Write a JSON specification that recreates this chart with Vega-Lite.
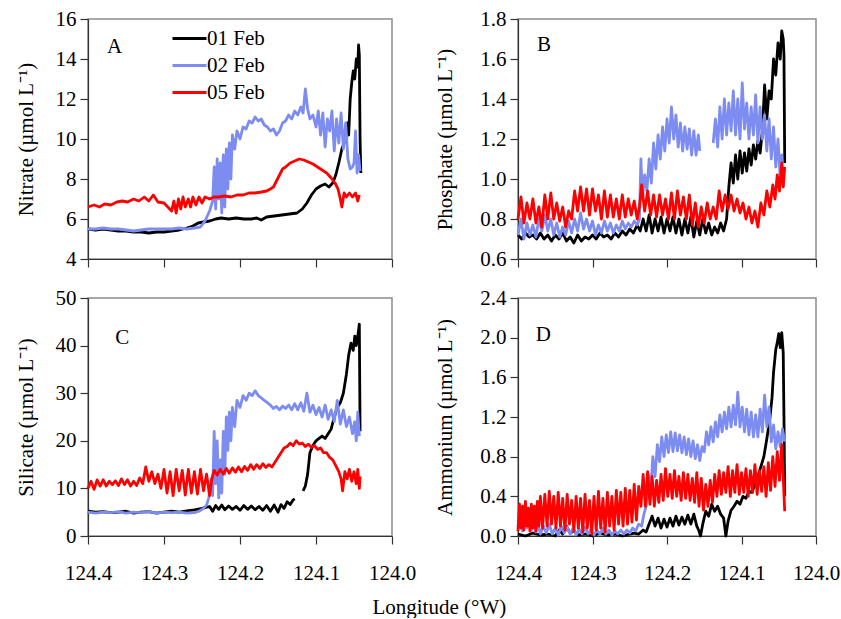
{
"$schema": "https://vega.github.io/schema/vega-lite/v6.json",
"padding": {"left": 14, "top": 7, "right": 0, "bottom": 0},
"background": "white",
"title": {"text": "Longitude (°W)", "orient": "bottom", "anchor": "middle", "font": "Liberation Serif", "fontSize": 21, "fontWeight": "normal", "color": "#000", "offset": 13, "dx": 12},
"columns": 2,
"bounds": "flush",
"spacing": {"row": 39, "column": 126},
"resolve": {"scale": {"color": "independent"}, "legend": {"color": "independent"}},
"config": {
  "view": {"stroke": "#8c8c8c", "strokeWidth": 1.5},
  "axis": {"grid": false, "labelFont": "Liberation Serif", "labelFontSize": 21, "labelColor": "#000", "titleFont": "Liberation Serif", "titleFontSize": 21, "titleFontWeight": "normal", "titleColor": "#000", "tickSize": 8, "tickColor": "#333", "domainColor": "#333", "tickWidth": 1.2, "domainWidth": 1.2, "labelPadding": 4, "labelFlush": false, "labelOverlap": false},
  "axisX": {"labelPadding": 18},
  "line": {"strokeWidth": 2.8, "strokeJoin": "round"}
},
"datasets": {
"A1": [{"x":124.4,"y":5.5},{"x":124.39,"y":5.45},{"x":124.38,"y":5.5},{"x":124.37,"y":5.45},{"x":124.36,"y":5.4},{"x":124.35,"y":5.4},{"x":124.34,"y":5.35},{"x":124.33,"y":5.35},{"x":124.32,"y":5.3},{"x":124.31,"y":5.35},{"x":124.3,"y":5.35},{"x":124.29,"y":5.4},{"x":124.28,"y":5.45},{"x":124.27,"y":5.55},{"x":124.262,"y":5.65},{"x":124.255,"y":5.8},{"x":124.248,"y":5.85},{"x":124.24,"y":5.9},{"x":124.232,"y":6.0},{"x":124.225,"y":6.05},{"x":124.215,"y":6.0},{"x":124.205,"y":6.05},{"x":124.195,"y":6.0},{"x":124.185,"y":6.0},{"x":124.178,"y":6.05},{"x":124.172,"y":5.95},{"x":124.165,"y":6.1},{"x":124.155,"y":6.15},{"x":124.145,"y":6.2},{"x":124.135,"y":6.25},{"x":124.125,"y":6.3},{"x":124.118,"y":6.5},{"x":124.112,"y":6.8},{"x":124.106,"y":7.2},{"x":124.1,"y":7.5},{"x":124.094,"y":7.65},{"x":124.088,"y":7.75},{"x":124.083,"y":7.6},{"x":124.078,"y":7.8},{"x":124.074,"y":8.2},{"x":124.07,"y":8.8},{"x":124.066,"y":9.5},{"x":124.062,"y":9.9},{"x":124.059,"y":10.8},{"x":124.057,"y":10.2},{"x":124.055,"y":12.0},{"x":124.053,"y":12.8},{"x":124.051,"y":13.4},{"x":124.049,"y":13.0},{"x":124.047,"y":14.0},{"x":124.045,"y":13.6},{"x":124.044,"y":14.7},{"x":124.043,"y":14.2},{"x":124.042,"y":10.0},{"x":124.041,"y":8.3}],
"A2": [{"x":124.4,"y":5.5},{"x":124.39,"y":5.5},{"x":124.38,"y":5.55},{"x":124.37,"y":5.5},{"x":124.36,"y":5.5},{"x":124.35,"y":5.45},{"x":124.34,"y":5.4},{"x":124.33,"y":5.45},{"x":124.32,"y":5.5},{"x":124.31,"y":5.5},{"x":124.3,"y":5.5},{"x":124.29,"y":5.5},{"x":124.28,"y":5.55},{"x":124.27,"y":5.5},{"x":124.26,"y":5.55},{"x":124.252,"y":5.6},{"x":124.246,"y":5.9},{"x":124.24,"y":6.4},{"x":124.236,"y":6.9},{"x":124.234,"y":8.6},{"x":124.232,"y":6.5},{"x":124.23,"y":9.0},{"x":124.228,"y":7.0},{"x":124.226,"y":8.8},{"x":124.224,"y":6.3},{"x":124.222,"y":9.2},{"x":124.22,"y":6.6},{"x":124.218,"y":9.5},{"x":124.216,"y":7.5},{"x":124.214,"y":9.8},{"x":124.212,"y":8.0},{"x":124.21,"y":10.2},{"x":124.207,"y":9.5},{"x":124.204,"y":10.4},{"x":124.2,"y":10.0},{"x":124.196,"y":10.6},{"x":124.192,"y":10.5},{"x":124.188,"y":10.9},{"x":124.184,"y":10.8},{"x":124.18,"y":11.1},{"x":124.176,"y":10.9},{"x":124.172,"y":11.0},{"x":124.168,"y":10.7},{"x":124.164,"y":10.6},{"x":124.16,"y":10.4},{"x":124.156,"y":10.5},{"x":124.152,"y":10.2},{"x":124.148,"y":10.4},{"x":124.144,"y":10.8},{"x":124.14,"y":10.9},{"x":124.136,"y":11.2},{"x":124.132,"y":11.0},{"x":124.128,"y":11.4},{"x":124.124,"y":11.2},{"x":124.12,"y":11.6},{"x":124.117,"y":11.3},{"x":124.114,"y":12.5},{"x":124.111,"y":11.5},{"x":124.108,"y":11.0},{"x":124.104,"y":11.2},{"x":124.1,"y":10.6},{"x":124.097,"y":11.4},{"x":124.094,"y":10.2},{"x":124.091,"y":11.3},{"x":124.088,"y":9.6},{"x":124.085,"y":11.0},{"x":124.082,"y":10.4},{"x":124.079,"y":11.4},{"x":124.076,"y":9.4},{"x":124.073,"y":11.0},{"x":124.07,"y":9.8},{"x":124.067,"y":11.3},{"x":124.064,"y":9.5},{"x":124.061,"y":10.8},{"x":124.058,"y":9.0},{"x":124.055,"y":8.5},{"x":124.052,"y":8.6},{"x":124.05,"y":8.8},{"x":124.048,"y":10.4},{"x":124.046,"y":8.3},{"x":124.044,"y":9.2},{"x":124.042,"y":8.4}],
"A5": [{"x":124.4,"y":6.6},{"x":124.392,"y":6.7},{"x":124.385,"y":6.6},{"x":124.378,"y":6.75},{"x":124.37,"y":6.7},{"x":124.362,"y":6.85},{"x":124.355,"y":6.9},{"x":124.348,"y":6.85},{"x":124.34,"y":7.0},{"x":124.333,"y":6.9},{"x":124.326,"y":7.1},{"x":124.32,"y":6.9},{"x":124.314,"y":7.2},{"x":124.308,"y":6.85},{"x":124.3,"y":6.8},{"x":124.295,"y":6.6},{"x":124.29,"y":6.4},{"x":124.287,"y":6.9},{"x":124.284,"y":6.3},{"x":124.281,"y":7.0},{"x":124.278,"y":6.5},{"x":124.275,"y":7.1},{"x":124.272,"y":6.6},{"x":124.268,"y":7.0},{"x":124.265,"y":6.6},{"x":124.262,"y":7.1},{"x":124.258,"y":6.7},{"x":124.254,"y":7.1},{"x":124.25,"y":6.8},{"x":124.246,"y":7.1},{"x":124.24,"y":7.0},{"x":124.234,"y":7.1},{"x":124.228,"y":7.1},{"x":124.22,"y":7.15},{"x":124.212,"y":7.1},{"x":124.204,"y":7.2},{"x":124.196,"y":7.2},{"x":124.188,"y":7.3},{"x":124.18,"y":7.3},{"x":124.172,"y":7.35},{"x":124.165,"y":7.4},{"x":124.16,"y":7.5},{"x":124.156,"y":7.6},{"x":124.152,"y":7.9},{"x":124.148,"y":8.2},{"x":124.144,"y":8.5},{"x":124.14,"y":8.6},{"x":124.134,"y":8.8},{"x":124.128,"y":8.9},{"x":124.122,"y":9.0},{"x":124.116,"y":8.95},{"x":124.11,"y":8.85},{"x":124.104,"y":8.75},{"x":124.098,"y":8.6},{"x":124.092,"y":8.45},{"x":124.086,"y":8.3},{"x":124.08,"y":8.05},{"x":124.075,"y":7.8},{"x":124.071,"y":7.5},{"x":124.068,"y":7.0},{"x":124.066,"y":6.6},{"x":124.063,"y":7.3},{"x":124.06,"y":7.1},{"x":124.056,"y":7.3},{"x":124.052,"y":7.1},{"x":124.048,"y":7.3},{"x":124.045,"y":6.9},{"x":124.043,"y":7.2}],
"B1": [{"x":124.4,"y":0.72},{"x":124.395,"y":0.7},{"x":124.39,"y":0.73},{"x":124.385,"y":0.71},{"x":124.38,"y":0.72},{"x":124.375,"y":0.7},{"x":124.37,"y":0.73},{"x":124.365,"y":0.7},{"x":124.36,"y":0.72},{"x":124.355,"y":0.69},{"x":124.35,"y":0.72},{"x":124.345,"y":0.7},{"x":124.34,"y":0.73},{"x":124.335,"y":0.69},{"x":124.33,"y":0.71},{"x":124.325,"y":0.68},{"x":124.32,"y":0.72},{"x":124.315,"y":0.69},{"x":124.31,"y":0.71},{"x":124.305,"y":0.7},{"x":124.3,"y":0.72},{"x":124.295,"y":0.7},{"x":124.29,"y":0.73},{"x":124.285,"y":0.71},{"x":124.28,"y":0.72},{"x":124.275,"y":0.7},{"x":124.27,"y":0.73},{"x":124.265,"y":0.71},{"x":124.26,"y":0.74},{"x":124.255,"y":0.72},{"x":124.25,"y":0.75},{"x":124.245,"y":0.73},{"x":124.24,"y":0.77},{"x":124.236,"y":0.74},{"x":124.232,"y":0.8},{"x":124.228,"y":0.74},{"x":124.224,"y":0.82},{"x":124.22,"y":0.73},{"x":124.216,"y":0.8},{"x":124.212,"y":0.74},{"x":124.208,"y":0.81},{"x":124.204,"y":0.73},{"x":124.2,"y":0.8},{"x":124.196,"y":0.74},{"x":124.192,"y":0.81},{"x":124.188,"y":0.73},{"x":124.184,"y":0.8},{"x":124.18,"y":0.72},{"x":124.176,"y":0.8},{"x":124.172,"y":0.73},{"x":124.168,"y":0.81},{"x":124.164,"y":0.71},{"x":124.16,"y":0.79},{"x":124.156,"y":0.72},{"x":124.152,"y":0.8},{"x":124.148,"y":0.73},{"x":124.144,"y":0.78},{"x":124.14,"y":0.72},{"x":124.136,"y":0.76},{"x":124.132,"y":0.73},{"x":124.128,"y":0.78},{"x":124.124,"y":0.74},{"x":124.12,"y":0.8},{"x":124.117,"y":0.96},{"x":124.114,"y":1.08},{"x":124.111,"y":0.98},{"x":124.108,"y":1.12},{"x":124.105,"y":1.0},{"x":124.102,"y":1.14},{"x":124.099,"y":1.03},{"x":124.096,"y":1.13},{"x":124.093,"y":1.04},{"x":124.09,"y":1.15},{"x":124.087,"y":1.07},{"x":124.084,"y":1.17},{"x":124.081,"y":1.1},{"x":124.078,"y":1.19},{"x":124.075,"y":1.13},{"x":124.072,"y":1.24},{"x":124.069,"y":1.47},{"x":124.066,"y":1.3},{"x":124.063,"y":1.44},{"x":124.06,"y":1.4},{"x":124.057,"y":1.6},{"x":124.054,"y":1.52},{"x":124.051,"y":1.68},{"x":124.048,"y":1.6},{"x":124.046,"y":1.74},{"x":124.044,"y":1.7},{"x":124.043,"y":1.62},{"x":124.042,"y":1.08}],
"B2": [{"x":124.4,"y":0.72},{"x":124.396,"y":0.8},{"x":124.392,"y":0.7},{"x":124.388,"y":0.78},{"x":124.384,"y":0.72},{"x":124.38,"y":0.77},{"x":124.376,"y":0.71},{"x":124.372,"y":0.8},{"x":124.368,"y":0.74},{"x":124.364,"y":0.82},{"x":124.36,"y":0.74},{"x":124.356,"y":0.8},{"x":124.352,"y":0.72},{"x":124.348,"y":0.78},{"x":124.344,"y":0.71},{"x":124.34,"y":0.76},{"x":124.336,"y":0.72},{"x":124.332,"y":0.79},{"x":124.328,"y":0.73},{"x":124.324,"y":0.8},{"x":124.32,"y":0.74},{"x":124.316,"y":0.83},{"x":124.312,"y":0.75},{"x":124.308,"y":0.8},{"x":124.304,"y":0.74},{"x":124.3,"y":0.79},{"x":124.296,"y":0.72},{"x":124.292,"y":0.77},{"x":124.288,"y":0.73},{"x":124.284,"y":0.79},{"x":124.28,"y":0.74},{"x":124.276,"y":0.78},{"x":124.272,"y":0.73},{"x":124.268,"y":0.77},{"x":124.264,"y":0.74},{"x":124.26,"y":0.79},{"x":124.256,"y":0.75},{"x":124.252,"y":0.78},{"x":124.248,"y":0.76},{"x":124.244,"y":0.79},{"x":124.24,"y":0.77},{"x":124.237,"y":0.8},{"x":124.235,"y":1.1},{"x":124.233,"y":0.9},{"x":124.23,"y":1.02},{"x":124.227,"y":0.94},{"x":124.224,"y":1.1},{"x":124.221,"y":0.98},{"x":124.218,"y":1.18},{"x":124.215,"y":1.05},{"x":124.212,"y":1.22},{"x":124.209,"y":1.1},{"x":124.206,"y":1.26},{"x":124.203,"y":1.14},{"x":124.2,"y":1.3},{"x":124.197,"y":1.18},{"x":124.194,"y":1.36},{"x":124.191,"y":1.2},{"x":124.188,"y":1.32},{"x":124.185,"y":1.16},{"x":124.182,"y":1.28},{"x":124.179,"y":1.14},{"x":124.176,"y":1.26},{"x":124.173,"y":1.15},{"x":124.17,"y":1.25},{"x":124.167,"y":1.12},{"x":124.164,"y":1.24},{"x":124.161,"y":1.12},{"x":124.158,"y":1.22},{"x":124.156,"y":1.14},
 {"x":124.138,"y":1.18,"s":2},{"x":124.135,"y":1.3,"s":2},{"x":124.132,"y":1.16,"s":2},{"x":124.129,"y":1.36,"s":2},{"x":124.126,"y":1.2,"s":2},{"x":124.123,"y":1.4,"s":2},{"x":124.12,"y":1.22,"s":2},{"x":124.117,"y":1.38,"s":2},{"x":124.114,"y":1.24,"s":2},{"x":124.111,"y":1.44,"s":2},{"x":124.108,"y":1.22,"s":2},{"x":124.105,"y":1.4,"s":2},{"x":124.102,"y":1.2,"s":2},{"x":124.099,"y":1.48,"s":2},{"x":124.096,"y":1.25,"s":2},{"x":124.093,"y":1.38,"s":2},{"x":124.09,"y":1.2,"s":2},{"x":124.087,"y":1.36,"s":2},{"x":124.084,"y":1.22,"s":2},{"x":124.081,"y":1.42,"s":2},{"x":124.078,"y":1.18,"s":2},{"x":124.075,"y":1.36,"s":2},{"x":124.072,"y":1.2,"s":2},{"x":124.069,"y":1.32,"s":2},{"x":124.066,"y":1.14,"s":2},{"x":124.063,"y":1.3,"s":2},{"x":124.06,"y":1.1,"s":2},{"x":124.057,"y":1.26,"s":2},{"x":124.054,"y":1.06,"s":2},{"x":124.051,"y":1.2,"s":2},{"x":124.048,"y":1.0,"s":2},{"x":124.046,"y":1.12,"s":2},{"x":124.044,"y":0.96,"s":2}],
"B5": [{"x":124.4,"y":0.8},{"x":124.396,"y":0.91},{"x":124.392,"y":0.78},{"x":124.388,"y":0.88},{"x":124.384,"y":0.8},{"x":124.38,"y":0.9},{"x":124.376,"y":0.78},{"x":124.372,"y":0.86},{"x":124.368,"y":0.76},{"x":124.364,"y":0.92},{"x":124.36,"y":0.8},{"x":124.356,"y":0.93},{"x":124.352,"y":0.8},{"x":124.348,"y":0.88},{"x":124.344,"y":0.79},{"x":124.34,"y":0.86},{"x":124.336,"y":0.76},{"x":124.332,"y":0.84},{"x":124.328,"y":0.8},{"x":124.324,"y":0.94},{"x":124.32,"y":0.84},{"x":124.316,"y":0.96},{"x":124.312,"y":0.84},{"x":124.308,"y":0.95},{"x":124.304,"y":0.82},{"x":124.3,"y":0.95},{"x":124.296,"y":0.84},{"x":124.292,"y":0.92},{"x":124.288,"y":0.8},{"x":124.284,"y":0.94},{"x":124.28,"y":0.81},{"x":124.276,"y":0.92},{"x":124.272,"y":0.81},{"x":124.268,"y":0.9},{"x":124.264,"y":0.8},{"x":124.26,"y":0.92},{"x":124.256,"y":0.81},{"x":124.252,"y":0.9},{"x":124.248,"y":0.82},{"x":124.244,"y":0.89},{"x":124.24,"y":0.8},{"x":124.237,"y":0.86},{"x":124.234,"y":0.97},{"x":124.23,"y":0.84},{"x":124.226,"y":0.94},{"x":124.222,"y":0.82},{"x":124.218,"y":0.92},{"x":124.214,"y":0.81},{"x":124.21,"y":0.92},{"x":124.206,"y":0.82},{"x":124.202,"y":0.9},{"x":124.198,"y":0.8},{"x":124.194,"y":0.93},{"x":124.19,"y":0.8},{"x":124.186,"y":0.94},{"x":124.182,"y":0.82},{"x":124.178,"y":0.91},{"x":124.174,"y":0.8},{"x":124.17,"y":0.92},{"x":124.166,"y":0.77},{"x":124.162,"y":0.88},{"x":124.158,"y":0.76},{"x":124.154,"y":0.86},{"x":124.15,"y":0.78},{"x":124.146,"y":0.88},{"x":124.142,"y":0.8},{"x":124.138,"y":0.86},{"x":124.134,"y":0.8},{"x":124.13,"y":0.94},{"x":124.126,"y":0.84},{"x":124.122,"y":0.92},{"x":124.118,"y":0.85},{"x":124.114,"y":0.92},{"x":124.11,"y":0.84},{"x":124.106,"y":0.9},{"x":124.102,"y":0.83},{"x":124.098,"y":0.88},{"x":124.094,"y":0.8},{"x":124.09,"y":0.86},{"x":124.086,"y":0.78},{"x":124.082,"y":0.84},{"x":124.078,"y":0.76},{"x":124.074,"y":0.88},{"x":124.07,"y":0.82},{"x":124.066,"y":0.94},{"x":124.062,"y":0.86},{"x":124.058,"y":0.97},{"x":124.055,"y":0.9},{"x":124.052,"y":1.02},{"x":124.049,"y":0.94},{"x":124.046,"y":1.08},{"x":124.044,"y":0.96},{"x":124.042,"y":1.06}],
"C1": [{"x":124.4,"y":5.2},{"x":124.39,"y":5.0},{"x":124.38,"y":5.1},{"x":124.37,"y":4.9},{"x":124.36,"y":5.0},{"x":124.35,"y":5.2},{"x":124.34,"y":4.8},{"x":124.33,"y":5.0},{"x":124.32,"y":5.1},{"x":124.31,"y":4.8},{"x":124.3,"y":5.0},{"x":124.29,"y":5.2},{"x":124.28,"y":5.0},{"x":124.27,"y":5.3},{"x":124.26,"y":5.5},{"x":124.25,"y":5.8},{"x":124.245,"y":6.0},{"x":124.24,"y":6.2},{"x":124.236,"y":5.2},{"x":124.232,"y":6.4},{"x":124.228,"y":5.6},{"x":124.224,"y":6.5},{"x":124.22,"y":5.5},{"x":124.215,"y":6.3},{"x":124.21,"y":5.6},{"x":124.205,"y":6.2},{"x":124.2,"y":5.4},{"x":124.195,"y":6.4},{"x":124.19,"y":5.6},{"x":124.185,"y":6.3},{"x":124.18,"y":5.5},{"x":124.175,"y":6.2},{"x":124.17,"y":5.4},{"x":124.165,"y":6.4},{"x":124.16,"y":5.2},{"x":124.155,"y":6.5},{"x":124.15,"y":5.0},{"x":124.146,"y":6.6},{"x":124.142,"y":5.8},{"x":124.138,"y":7.2},{"x":124.134,"y":6.6},{"x":124.13,"y":7.6},{"x":124.128,"y":7.8},
 {"x":124.117,"y":9.5,"s":2},{"x":124.114,"y":10.5,"s":2},{"x":124.111,"y":13.0,"s":2},{"x":124.108,"y":17.5,"s":2},{"x":124.104,"y":19.0,"s":2},{"x":124.1,"y":20.0,"s":2},{"x":124.096,"y":20.5,"s":2},{"x":124.092,"y":21.0,"s":2},{"x":124.088,"y":20.5,"s":2},{"x":124.084,"y":21.5,"s":2},{"x":124.08,"y":22.5,"s":2},{"x":124.076,"y":25.0,"s":2},{"x":124.072,"y":27.0,"s":2},{"x":124.068,"y":28.0,"s":2},{"x":124.064,"y":30.0,"s":2},{"x":124.06,"y":34.0,"s":2},{"x":124.057,"y":38.0,"s":2},{"x":124.054,"y":40.5,"s":2},{"x":124.051,"y":39.0,"s":2},{"x":124.049,"y":42.0,"s":2},{"x":124.047,"y":40.0,"s":2},{"x":124.045,"y":42.0,"s":2},{"x":124.043,"y":44.5,"s":2},{"x":124.042,"y":22.0,"s":2}],
"C2": [{"x":124.4,"y":5.0},{"x":124.39,"y":4.8},{"x":124.38,"y":5.0},{"x":124.37,"y":4.9},{"x":124.36,"y":5.1},{"x":124.35,"y":4.8},{"x":124.34,"y":5.0},{"x":124.33,"y":4.9},{"x":124.32,"y":5.1},{"x":124.31,"y":4.8},{"x":124.3,"y":5.0},{"x":124.29,"y":4.9},{"x":124.28,"y":5.0},{"x":124.27,"y":4.8},{"x":124.26,"y":4.9},{"x":124.254,"y":5.2},{"x":124.248,"y":5.8},{"x":124.244,"y":6.5},{"x":124.241,"y":8.0},{"x":124.238,"y":12.0},{"x":124.236,"y":8.5},{"x":124.234,"y":22.0},{"x":124.232,"y":11.0},{"x":124.23,"y":20.0},{"x":124.228,"y":8.0},{"x":124.226,"y":16.0},{"x":124.224,"y":9.0},{"x":124.222,"y":22.0},{"x":124.22,"y":13.0},{"x":124.218,"y":25.0},{"x":124.216,"y":18.0},{"x":124.214,"y":26.0},{"x":124.212,"y":20.0},{"x":124.21,"y":27.0},{"x":124.207,"y":23.0},{"x":124.204,"y":28.5},{"x":124.2,"y":27.0},{"x":124.196,"y":29.5},{"x":124.192,"y":28.5},{"x":124.188,"y":30.0},{"x":124.184,"y":29.5},{"x":124.18,"y":30.5},{"x":124.176,"y":29.5},{"x":124.172,"y":29.0},{"x":124.168,"y":28.5},{"x":124.164,"y":28.0},{"x":124.16,"y":27.5},{"x":124.156,"y":26.8},{"x":124.152,"y":27.2},{"x":124.148,"y":26.5},{"x":124.144,"y":27.3},{"x":124.14,"y":26.8},{"x":124.136,"y":27.5},{"x":124.132,"y":26.5},{"x":124.128,"y":27.8},{"x":124.124,"y":26.5},{"x":124.12,"y":28.0},{"x":124.116,"y":26.2},{"x":124.112,"y":30.0},{"x":124.108,"y":26.0},{"x":124.104,"y":27.5},{"x":124.1,"y":25.5},{"x":124.096,"y":27.0},{"x":124.092,"y":25.0},{"x":124.088,"y":27.5},{"x":124.084,"y":24.5},{"x":124.08,"y":26.5},{"x":124.076,"y":24.0},{"x":124.072,"y":28.5},{"x":124.068,"y":23.5},{"x":124.064,"y":26.5},{"x":124.06,"y":23.0},{"x":124.056,"y":25.0},{"x":124.052,"y":21.5},{"x":124.049,"y":24.0},{"x":124.047,"y":20.0},{"x":124.045,"y":26.0},{"x":124.043,"y":21.0}],
"C5": [{"x":124.4,"y":10.0},{"x":124.396,"y":11.5},{"x":124.392,"y":9.8},{"x":124.388,"y":11.8},{"x":124.384,"y":10.5},{"x":124.38,"y":11.8},{"x":124.376,"y":10.5},{"x":124.372,"y":11.5},{"x":124.368,"y":10.8},{"x":124.364,"y":11.6},{"x":124.36,"y":10.6},{"x":124.356,"y":12.0},{"x":124.352,"y":10.8},{"x":124.348,"y":11.8},{"x":124.344,"y":10.5},{"x":124.34,"y":11.5},{"x":124.336,"y":10.6},{"x":124.332,"y":12.2},{"x":124.328,"y":11.0},{"x":124.324,"y":14.5},{"x":124.32,"y":11.5},{"x":124.316,"y":13.5},{"x":124.312,"y":11.0},{"x":124.308,"y":13.0},{"x":124.304,"y":10.0},{"x":124.3,"y":14.0},{"x":124.296,"y":9.0},{"x":124.292,"y":13.5},{"x":124.288,"y":8.5},{"x":124.284,"y":14.0},{"x":124.28,"y":9.5},{"x":124.276,"y":13.8},{"x":124.272,"y":8.6},{"x":124.268,"y":14.0},{"x":124.264,"y":9.0},{"x":124.26,"y":13.5},{"x":124.256,"y":8.8},{"x":124.252,"y":14.0},{"x":124.248,"y":9.5},{"x":124.244,"y":13.0},{"x":124.24,"y":8.5},{"x":124.237,"y":12.0},{"x":124.234,"y":13.8},{"x":124.23,"y":12.8},{"x":124.226,"y":14.0},{"x":124.222,"y":13.0},{"x":124.218,"y":14.2},{"x":124.214,"y":13.2},{"x":124.21,"y":14.3},{"x":124.206,"y":13.4},{"x":124.202,"y":14.5},{"x":124.198,"y":13.5},{"x":124.194,"y":14.6},{"x":124.19,"y":13.8},{"x":124.186,"y":15.0},{"x":124.182,"y":14.0},{"x":124.178,"y":15.0},{"x":124.174,"y":14.2},{"x":124.17,"y":15.2},{"x":124.166,"y":14.4},{"x":124.162,"y":15.0},{"x":124.158,"y":14.5},{"x":124.154,"y":15.5},{"x":124.15,"y":16.5},{"x":124.146,"y":17.5},{"x":124.142,"y":18.5},{"x":124.138,"y":18.8},{"x":124.134,"y":19.5},{"x":124.13,"y":19.0},{"x":124.126,"y":20.0},{"x":124.122,"y":19.3},{"x":124.118,"y":19.5},{"x":124.114,"y":18.8},{"x":124.11,"y":19.3},{"x":124.106,"y":18.6},{"x":124.102,"y":19.0},{"x":124.098,"y":18.2},{"x":124.094,"y":18.5},{"x":124.09,"y":17.5},{"x":124.086,"y":17.5},{"x":124.082,"y":16.5},{"x":124.078,"y":16.0},{"x":124.074,"y":14.8},{"x":124.07,"y":13.5},{"x":124.067,"y":12.0},{"x":124.065,"y":9.5},{"x":124.062,"y":13.5},{"x":124.059,"y":12.0},{"x":124.056,"y":14.0},{"x":124.053,"y":11.5},{"x":124.05,"y":13.5},{"x":124.047,"y":11.0},{"x":124.045,"y":14.0},{"x":124.043,"y":10.0},{"x":124.042,"y":12.5}],
"D1": [{"x":124.4,"y":0.02},{"x":124.39,"y":0.0},{"x":124.38,"y":0.03},{"x":124.37,"y":0.01},{"x":124.36,"y":0.02},{"x":124.35,"y":0.0},{"x":124.345,"y":0.06},{"x":124.34,"y":0.02},{"x":124.335,"y":0.1},{"x":124.33,"y":0.03},{"x":124.325,"y":0.05},{"x":124.32,"y":0.01},{"x":124.31,"y":0.02},{"x":124.3,"y":0.0},{"x":124.29,"y":0.03},{"x":124.28,"y":0.01},{"x":124.27,"y":0.02},{"x":124.26,"y":0.0},{"x":124.25,"y":0.02},{"x":124.244,"y":0.03},{"x":124.238,"y":0.02},{"x":124.232,"y":0.06},{"x":124.228,"y":0.04},{"x":124.224,"y":0.12},{"x":124.22,"y":0.2},{"x":124.216,"y":0.1},{"x":124.212,"y":0.18},{"x":124.208,"y":0.08},{"x":124.204,"y":0.17},{"x":124.2,"y":0.09},{"x":124.196,"y":0.18},{"x":124.192,"y":0.1},{"x":124.188,"y":0.2},{"x":124.184,"y":0.11},{"x":124.18,"y":0.19},{"x":124.176,"y":0.12},{"x":124.172,"y":0.21},{"x":124.168,"y":0.12},{"x":124.164,"y":0.22},{"x":124.16,"y":0.1},{"x":124.157,"y":0.05},{"x":124.155,"y":0.0},{"x":124.152,"y":0.12},{"x":124.148,"y":0.25},{"x":124.144,"y":0.2},{"x":124.14,"y":0.32},{"x":124.136,"y":0.25},{"x":124.132,"y":0.3},{"x":124.128,"y":0.22},{"x":124.124,"y":0.18},{"x":124.121,"y":0.0},{"x":124.118,"y":0.15},{"x":124.114,"y":0.26},{"x":124.11,"y":0.3},{"x":124.106,"y":0.35},{"x":124.102,"y":0.32},{"x":124.098,"y":0.4},{"x":124.094,"y":0.38},{"x":124.09,"y":0.45},{"x":124.086,"y":0.44},{"x":124.082,"y":0.52},{"x":124.078,"y":0.6},{"x":124.074,"y":0.7},{"x":124.07,"y":0.8},{"x":124.066,"y":0.98},{"x":124.062,"y":1.18},{"x":124.059,"y":1.4},{"x":124.057,"y":1.65},{"x":124.054,"y":1.88},{"x":124.052,"y":1.95},{"x":124.05,"y":2.04},{"x":124.048,"y":1.9},{"x":124.046,"y":2.05},{"x":124.044,"y":1.85},{"x":124.043,"y":1.2},{"x":124.042,"y":0.4}],
"D2": [{"x":124.4,"y":0.1},{"x":124.397,"y":0.22},{"x":124.394,"y":0.05},{"x":124.391,"y":0.2},{"x":124.388,"y":0.08},{"x":124.385,"y":0.25},{"x":124.382,"y":0.06},{"x":124.379,"y":0.18},{"x":124.376,"y":0.04},{"x":124.373,"y":0.12},{"x":124.37,"y":0.02},{"x":124.366,"y":0.1},{"x":124.362,"y":0.03},{"x":124.358,"y":0.12},{"x":124.354,"y":0.02},{"x":124.35,"y":0.08},{"x":124.346,"y":0.01},{"x":124.342,"y":0.1},{"x":124.338,"y":0.03},{"x":124.334,"y":0.09},{"x":124.33,"y":0.02},{"x":124.326,"y":0.08},{"x":124.322,"y":0.01},{"x":124.318,"y":0.07},{"x":124.314,"y":0.02},{"x":124.31,"y":0.09},{"x":124.306,"y":0.02},{"x":124.302,"y":0.07},{"x":124.298,"y":0.01},{"x":124.294,"y":0.06},{"x":124.29,"y":0.02},{"x":124.286,"y":0.08},{"x":124.282,"y":0.02},{"x":124.278,"y":0.06},{"x":124.274,"y":0.01},{"x":124.27,"y":0.05},{"x":124.266,"y":0.02},{"x":124.262,"y":0.06},{"x":124.258,"y":0.02},{"x":124.254,"y":0.06},{"x":124.25,"y":0.03},{"x":124.246,"y":0.08},{"x":124.242,"y":0.05},{"x":124.238,"y":0.12},{"x":124.234,"y":0.1},{"x":124.231,"y":0.22},{"x":124.228,"y":0.3},{"x":124.225,"y":0.62},{"x":124.222,"y":0.45},{"x":124.219,"y":0.8},{"x":124.216,"y":0.6},{"x":124.213,"y":0.92},{"x":124.21,"y":0.75},{"x":124.207,"y":1.0},{"x":124.204,"y":0.8},{"x":124.201,"y":1.02},{"x":124.198,"y":0.84},{"x":124.195,"y":1.05},{"x":124.192,"y":0.85},{"x":124.189,"y":1.04},{"x":124.186,"y":0.86},{"x":124.183,"y":1.02},{"x":124.18,"y":0.84},{"x":124.177,"y":1.0},{"x":124.174,"y":0.82},{"x":124.171,"y":0.98},{"x":124.168,"y":0.8},{"x":124.165,"y":0.96},{"x":124.162,"y":0.78},{"x":124.159,"y":0.92},{"x":124.156,"y":0.76},{"x":124.153,"y":0.9},{"x":124.15,"y":0.85},{"x":124.147,"y":1.05},{"x":124.144,"y":0.92},{"x":124.141,"y":1.1},{"x":124.138,"y":0.95},{"x":124.135,"y":1.15},{"x":124.132,"y":1.0},{"x":124.129,"y":1.22},{"x":124.126,"y":1.05},{"x":124.123,"y":1.25},{"x":124.12,"y":1.08},{"x":124.117,"y":1.3},{"x":124.114,"y":1.1},{"x":124.111,"y":1.32},{"x":124.108,"y":1.12},{"x":124.105,"y":1.45},{"x":124.102,"y":1.1},{"x":124.099,"y":1.3},{"x":124.096,"y":1.05},{"x":124.093,"y":1.28},{"x":124.09,"y":1.02},{"x":124.087,"y":1.25},{"x":124.084,"y":1.0},{"x":124.081,"y":1.22},{"x":124.078,"y":1.0},{"x":124.075,"y":1.28},{"x":124.072,"y":1.05},{"x":124.069,"y":1.42},{"x":124.066,"y":1.1},{"x":124.063,"y":1.3},{"x":124.06,"y":0.95},{"x":124.057,"y":1.12},{"x":124.054,"y":0.88},{"x":124.051,"y":1.05},{"x":124.048,"y":0.9},{"x":124.045,"y":1.08},{"x":124.042,"y":0.95}],
"D5": [{"x":124.4,"y":0.05},{"x":124.398,"y":0.32},{"x":124.396,"y":0.08},{"x":124.394,"y":0.3},{"x":124.392,"y":0.06},{"x":124.39,"y":0.35},{"x":124.388,"y":0.1},{"x":124.386,"y":0.28},{"x":124.384,"y":0.05},{"x":124.382,"y":0.32},{"x":124.38,"y":0.08},{"x":124.378,"y":0.3},{"x":124.376,"y":0.05},{"x":124.374,"y":0.35},{"x":124.372,"y":0.1},{"x":124.37,"y":0.4},{"x":124.367,"y":0.08},{"x":124.364,"y":0.42},{"x":124.361,"y":0.1},{"x":124.358,"y":0.45},{"x":124.355,"y":0.12},{"x":124.352,"y":0.4},{"x":124.349,"y":0.08},{"x":124.346,"y":0.44},{"x":124.343,"y":0.1},{"x":124.34,"y":0.38},{"x":124.337,"y":0.06},{"x":124.334,"y":0.42},{"x":124.331,"y":0.12},{"x":124.328,"y":0.36},{"x":124.325,"y":0.05},{"x":124.322,"y":0.4},{"x":124.319,"y":0.08},{"x":124.316,"y":0.38},{"x":124.313,"y":0.04},{"x":124.31,"y":0.42},{"x":124.307,"y":0.08},{"x":124.304,"y":0.36},{"x":124.301,"y":0.02},{"x":124.298,"y":0.4},{"x":124.295,"y":0.06},{"x":124.292,"y":0.45},{"x":124.289,"y":0.08},{"x":124.286,"y":0.38},{"x":124.283,"y":0.04},{"x":124.28,"y":0.44},{"x":124.277,"y":0.1},{"x":124.274,"y":0.4},{"x":124.271,"y":0.06},{"x":124.268,"y":0.46},{"x":124.265,"y":0.12},{"x":124.262,"y":0.44},{"x":124.259,"y":0.1},{"x":124.256,"y":0.48},{"x":124.253,"y":0.12},{"x":124.25,"y":0.46},{"x":124.247,"y":0.14},{"x":124.244,"y":0.52},{"x":124.241,"y":0.16},{"x":124.238,"y":0.5},{"x":124.235,"y":0.3},{"x":124.232,"y":0.62},{"x":124.229,"y":0.3},{"x":124.226,"y":0.65},{"x":124.223,"y":0.32},{"x":124.22,"y":0.6},{"x":124.217,"y":0.3},{"x":124.214,"y":0.56},{"x":124.211,"y":0.34},{"x":124.208,"y":0.62},{"x":124.205,"y":0.36},{"x":124.202,"y":0.68},{"x":124.199,"y":0.4},{"x":124.196,"y":0.62},{"x":124.193,"y":0.38},{"x":124.19,"y":0.66},{"x":124.187,"y":0.4},{"x":124.184,"y":0.6},{"x":124.181,"y":0.36},{"x":124.178,"y":0.64},{"x":124.175,"y":0.38},{"x":124.172,"y":0.62},{"x":124.169,"y":0.36},{"x":124.166,"y":0.58},{"x":124.163,"y":0.34},{"x":124.16,"y":0.64},{"x":124.157,"y":0.3},{"x":124.154,"y":0.58},{"x":124.151,"y":0.26},{"x":124.148,"y":0.52},{"x":124.145,"y":0.3},{"x":124.142,"y":0.56},{"x":124.139,"y":0.34},{"x":124.136,"y":0.62},{"x":124.133,"y":0.4},{"x":124.13,"y":0.66},{"x":124.127,"y":0.42},{"x":124.124,"y":0.64},{"x":124.121,"y":0.44},{"x":124.118,"y":0.7},{"x":124.115,"y":0.4},{"x":124.112,"y":0.66},{"x":124.109,"y":0.44},{"x":124.106,"y":0.72},{"x":124.103,"y":0.42},{"x":124.1,"y":0.64},{"x":124.097,"y":0.44},{"x":124.094,"y":0.68},{"x":124.091,"y":0.4},{"x":124.088,"y":0.66},{"x":124.085,"y":0.44},{"x":124.082,"y":0.72},{"x":124.079,"y":0.42},{"x":124.076,"y":0.66},{"x":124.073,"y":0.45},{"x":124.07,"y":0.7},{"x":124.067,"y":0.4},{"x":124.064,"y":0.74},{"x":124.061,"y":0.46},{"x":124.058,"y":0.8},{"x":124.055,"y":0.5},{"x":124.052,"y":0.85},{"x":124.049,"y":0.56},{"x":124.046,"y":0.92},{"x":124.044,"y":0.6},{"x":124.042,"y":0.25}]
},
"concat": [
 {
  "width": 304, "height": 240,
  "encoding": {
    "x": {"field": "x", "type": "quantitative", "scale": {"domain": [124.0, 124.4], "reverse": true, "nice": false, "zero": false}, "axis": {"values": [124.4, 124.3, 124.2, 124.1, 124.0], "labels": false, "title": null}},
    "y": {"field": "y", "type": "quantitative", "scale": {"domain": [4, 16], "nice": false, "zero": false}, "axis": {"values": [4, 6, 8, 10, 12, 14, 16], "title": "Nitrate (µmol L⁻¹)", "titlePadding": 19}}
  },
  "layer": [
    {"data": {"name": "A1"}, "mark": {"type": "line"}, "encoding": {"color": {"datum": "01 Feb", "scale": {"domain": ["01 Feb", "02 Feb", "05 Feb"], "range": ["#000000", "#7c8cf0", "#ff0000"]}, "legend": {"orient": "none", "legendX": 91, "legendY": 9, "title": null, "symbolType": "M-2,0H2", "symbolSize": 289, "symbolStrokeWidth": 3.5, "labelFont": "Liberation Serif", "labelFontSize": 21, "labelColor": "#000", "labelOffset": 7, "rowPadding": 5}}}},
    {"data": {"name": "A2"}, "mark": {"type": "line"}, "encoding": {"color": {"datum": "02 Feb"}}},
    {"data": {"name": "A5"}, "mark": {"type": "line"}, "encoding": {"color": {"datum": "05 Feb"}}},
    {"data": {"values": [{"x": 124.365, "y": 14.6, "t": "A"}]}, "mark": {"type": "text", "align": "center", "baseline": "middle", "color": "#000", "font": "Liberation Serif", "fontSize": 21}, "encoding": {"text": {"field": "t"}}}
  ]
 },
 {
  "width": 298, "height": 240,
  "encoding": {
    "x": {"field": "x", "type": "quantitative", "scale": {"domain": [124.0, 124.4], "reverse": true, "nice": false, "zero": false}, "axis": {"values": [124.4, 124.3, 124.2, 124.1, 124.0], "labels": false, "title": null}},
    "y": {"field": "y", "type": "quantitative", "scale": {"domain": [0.6, 1.8], "nice": false, "zero": false}, "axis": {"values": [0.6, 0.8, 1.0, 1.2, 1.4, 1.6, 1.8], "format": ".1f", "title": "Phosphate (µmol L⁻¹)", "titlePadding": 24}}
  },
  "layer": [
    {"data": {"name": "B1"}, "mark": {"type": "line", "color": "#000000"}},
    {"data": {"name": "B2"}, "mark": {"type": "line", "color": "#7c8cf0"}, "encoding": {"detail": {"field": "s"}}},
    {"data": {"name": "B5"}, "mark": {"type": "line", "color": "#ff0000"}},
    {"data": {"values": [{"x": 124.365, "y": 1.67, "t": "B"}]}, "mark": {"type": "text", "align": "center", "baseline": "middle", "color": "#000", "font": "Liberation Serif", "fontSize": 21}, "encoding": {"text": {"field": "t"}}}
  ]
 },
 {
  "width": 304, "height": 238,
  "encoding": {
    "x": {"field": "x", "type": "quantitative", "scale": {"domain": [124.0, 124.4], "reverse": true, "nice": false, "zero": false}, "axis": {"values": [124.4, 124.3, 124.2, 124.1, 124.0], "format": ".1f", "title": null}},
    "y": {"field": "y", "type": "quantitative", "scale": {"domain": [0, 50], "nice": false}, "axis": {"values": [0, 10, 20, 30, 40, 50], "title": "Silicate (µmol L⁻¹)", "titlePadding": 19}}
  },
  "layer": [
    {"data": {"name": "C1"}, "mark": {"type": "line", "color": "#000000"}, "encoding": {"detail": {"field": "s"}}},
    {"data": {"name": "C2"}, "mark": {"type": "line", "color": "#7c8cf0"}},
    {"data": {"name": "C5"}, "mark": {"type": "line", "color": "#ff0000"}},
    {"data": {"values": [{"x": 124.355, "y": 41.7, "t": "C"}]}, "mark": {"type": "text", "align": "center", "baseline": "middle", "color": "#000", "font": "Liberation Serif", "fontSize": 21}, "encoding": {"text": {"field": "t"}}}
  ]
 },
 {
  "width": 298, "height": 238,
  "encoding": {
    "x": {"field": "x", "type": "quantitative", "scale": {"domain": [124.0, 124.4], "reverse": true, "nice": false, "zero": false}, "axis": {"values": [124.4, 124.3, 124.2, 124.1, 124.0], "format": ".1f", "title": null}},
    "y": {"field": "y", "type": "quantitative", "scale": {"domain": [0, 2.4], "nice": false}, "axis": {"values": [0, 0.4, 0.8, 1.2, 1.6, 2.0, 2.4], "format": ".1f", "title": "Ammonium (µmol L⁻¹)", "titlePadding": 24}}
  },
  "layer": [
    {"data": {"name": "D1"}, "mark": {"type": "line", "color": "#000000"}},
    {"data": {"name": "D2"}, "mark": {"type": "line", "color": "#7c8cf0"}},
    {"data": {"name": "D5"}, "mark": {"type": "line", "color": "#ff0000"}},
    {"data": {"values": [{"x": 124.366, "y": 2.03, "t": "D"}]}, "mark": {"type": "text", "align": "center", "baseline": "middle", "color": "#000", "font": "Liberation Serif", "fontSize": 21}, "encoding": {"text": {"field": "t"}}}
  ]
 }
]
}
